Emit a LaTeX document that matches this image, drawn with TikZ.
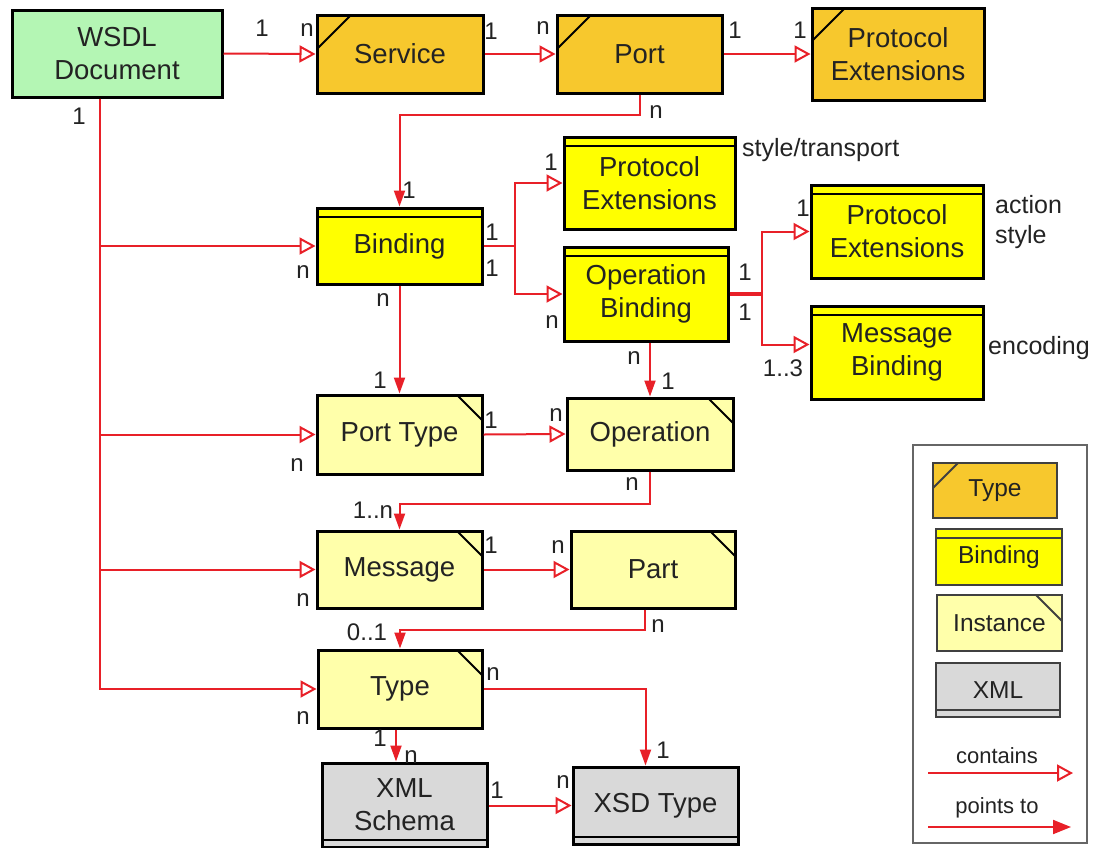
\documentclass[tikz,border=0pt]{standalone}
\usepackage{fontspec}
\setmainfont{Liberation Sans}
\usetikzlibrary{arrows.meta}

\definecolor{wsdlgreen}{RGB}{180,246,180}
\definecolor{typeorange}{RGB}{247,200,45}
\definecolor{bindyellow}{RGB}{255,255,0}
\definecolor{instyellow}{RGB}{255,255,170}
\definecolor{xmlgray}{RGB}{217,217,217}
\definecolor{arrowred}{RGB}{232,32,40}
\definecolor{inktext}{RGB}{35,35,35}

\begin{document}
\begin{tikzpicture}[x=1pt,y=-1pt,
  box/.style={draw=black, line width=3pt, inner sep=0pt, align=center,
    text=inktext, font=\fontsize{27.5}{33}\selectfont},
  smallbox/.style={box, line width=1.5pt, draw=black!75, font=\fontsize{24.5}{28}\selectfont},
  docbox/.style={box, fill=wsdlgreen},
  typebox/.style={fill=typeorange, path picture={
    \draw[line width=2pt] ([yshift=-#1pt]path picture bounding box.north west)
      -- ([xshift=#1pt]path picture bounding box.north west);}},
  typebox/.default=34,
  bindbox/.style={fill=bindyellow, path picture={
    \draw[line width=1.8pt] ([yshift=-9pt]path picture bounding box.north west)
      -- ([yshift=-9pt]path picture bounding box.north east);}},
  instbox/.style={fill=instyellow, path picture={
    \draw[line width=1.8pt] ([xshift=-#1pt]path picture bounding box.north east)
      -- ([yshift=-#1pt]path picture bounding box.north east);}},
  instbox/.default=25,
  xmlbox/.style={fill=xmlgray, path picture={
    \draw[line width=1.8pt] ([yshift=7pt]path picture bounding box.south west)
      -- ([yshift=7pt]path picture bounding box.south east);}},
  con/.style={draw=arrowred, line width=2pt,
    -{Triangle[open, length=16pt, width=17pt, line width=2pt]}},
  ptr/.style={draw=arrowred, line width=2pt, -{Triangle[length=16pt, width=11pt]}},
  lab/.style={inner sep=0pt, text=inktext, font=\fontsize{24}{28}\selectfont},
  note/.style={inner sep=0pt, anchor=west, text=inktext, align=left,
    font=\fontsize{25}{30}\selectfont},
]
\useasboundingbox[fill=white] (0,0) rectangle (1100,847);

% ---- main entities ----
\node[docbox, minimum width=210pt, minimum height=87pt] (wsdl) at (117,53.5) {WSDL\\Document};
\node[box, typebox, minimum width=166pt, minimum height=78pt] (service) at (400,54) {Service};
\node[box, typebox, minimum width=165pt, minimum height=78pt] (port) at (639.5,54) {Port};
\node[box, typebox=33, minimum width=172pt, minimum height=92pt] (pe1) at (898,54) {Protocol\\Extensions};

\node[box, bindbox, minimum width=165pt, minimum height=76pt] (binding) at (399.5,246) {Binding};
\node[box, bindbox, minimum width=171pt, minimum height=92pt] (pe2) at (649.5,183) {Protocol\\Extensions};
\node[box, bindbox, minimum width=164pt, minimum height=94pt] (opb) at (646,294) {Operation\\Binding};
\node[box, bindbox, minimum width=172pt, minimum height=93pt] (pe3) at (897,231.5) {Protocol\\Extensions};
\node[box, bindbox, minimum width=172pt, minimum height=93pt] (msgb) at (897,352.5) {Message\\Binding};

\node[box, instbox, minimum width=165pt, minimum height=79pt] (porttype) at (399.5,434.5) {Port Type};
\node[box, instbox, minimum width=166pt, minimum height=72pt] (operation) at (650,434) {Operation};
\node[box, instbox, minimum width=165pt, minimum height=77pt] (message) at (399.5,569.5) {Message};
\node[box, instbox, minimum width=164pt, minimum height=77pt] (part) at (653,569.5) {Part};
\node[box, instbox, minimum width=164pt, minimum height=78pt] (type) at (400,689) {Type};

\node[box, xmlbox, minimum width=165pt, minimum height=84pt] (xmls) at (404.5,805) {XML\\Schema};
\node[box, xmlbox, minimum width=165pt, minimum height=77pt] (xsd) at (655.5,805.5) {XSD Type};

% ---- connectors ----
\draw[con] (wsdl.east) -- (service.west);
\draw[con] (service.east) -- (port.west);
\draw[con] (port.east) -- (pe1.west);
\draw[ptr] (port.south) -- ++(0,20) -| (binding.north);

\coordinate (t0) at ([xshift=-17pt]wsdl.south);
\draw[con] (t0) |- (binding.west);
\draw[con] (t0) |- (porttype.west);
\draw[con] (t0) |- (message.west);
\draw[con] (t0) |- (type.west);

\draw[arrowred, line width=2pt] (binding.east) -- ++(31,0) coordinate (j1);
\draw[con] (j1) |- (pe2.west);
\draw[con] (j1) |- (opb.west);

\draw[arrowred, line width=4pt] (opb.east) -- ++(32,0) coordinate (j2);
\draw[con] (j2) |- (pe3.west);
\draw[con] (j2) |- ([yshift=8pt]msgb.west);

\draw[ptr] (binding.south) -- (porttype.north);
\draw[ptr] (operation.north |- opb.south) -- (operation.north);
\draw[con] (porttype.east) -- (operation.west);
\draw[ptr] (operation.south) -- ++(0,32) -| (message.north);
\draw[con] (message.east) -- (part.west);
\draw[ptr] ([xshift=-8pt]part.south) -- ++(0,20) -| (type.north);
\draw[ptr] (type.east) -| ([xshift=-10pt]xsd.north);
\draw[ptr] ([xshift=-4pt]type.south) -- ([xshift=-4pt]type.south |- xmls.north);
\draw[con] (xmls.east |- xsd.west) -- (xsd.west);

% ---- multiplicities ----
\node[lab] (m1) at (262,28) {1};
\node[lab] (m2) at (307,30) {n};
\node[lab] (m3) at (491,31) {1};
\node[lab] (m4) at (543,28) {n};
\node[lab] (m5) at (735,30) {1};
\node[lab] (m6) at (800,30) {1};
\node[lab] (m7) at (656,112) {n};
\node[lab] (m8) at (409,190) {1};
\node[lab] (m9) at (79,116) {1};
\node[lab] (m10) at (303,272) {n};
\node[lab] (m11) at (297,465) {n};
\node[lab] (m12) at (303,600) {n};
\node[lab] (m13) at (303,718) {n};
\node[lab] (m14) at (492,232) {1};
\node[lab] (m15) at (492,268) {1};
\node[lab] (m16) at (551,162) {1};
\node[lab] (m17) at (552,322) {n};
\node[lab] (m18) at (745,272) {1};
\node[lab] (m19) at (745,312) {1};
\node[lab] (m20) at (803,208) {1};
\node[lab] (m21) at (783,368) {1..3};
\node[lab] (m22) at (383,300) {n};
\node[lab] (m23) at (380,380) {1};
\node[lab] (m24) at (634,358) {n};
\node[lab] (m25) at (668,381) {1};
\node[lab] (m26) at (491,420) {1};
\node[lab] (m27) at (556,415) {n};
\node[lab] (m28) at (632,484) {n};
\node[lab] (m29) at (373,510) {1..n};
\node[lab] (m30) at (491,545) {1};
\node[lab] (m31) at (558,547) {n};
\node[lab] (m32) at (658,626) {n};
\node[lab] (m33) at (367,632) {0..1};
\node[lab] (m34) at (493,674) {n};
\node[lab] (m35) at (663,750) {1};
\node[lab] (m36) at (380,738) {1};
\node[lab] (m37) at (411,757) {n};
\node[lab] (m38) at (497,790) {1};
\node[lab] (m39) at (563,782) {n};

% ---- side notes ----
\node[note] (n1) at (742,150) {style/transport};
\node[note] (n2) at (995,222) {action\\style};
\node[note] (n3) at (988,348) {encoding};

% ---- legend ----
\node[draw=black!60, line width=1.5pt, minimum width=174pt, minimum height=398pt, inner sep=0pt] (legend) at (1000,644) {};
\node[smallbox, typebox=25, minimum width=124pt, minimum height=55pt] (lt) at (995,490.5) {Type};
\node[smallbox, bindbox, minimum width=126pt, minimum height=56pt] (lb) at (999,557) {Binding};
\node[smallbox, instbox=26, minimum width=125pt, minimum height=56pt] (li) at (999.5,623) {Instance};
\node[smallbox, xmlbox, minimum width=124pt, minimum height=54pt] (lx) at (998,690) {XML};

\node[lab, font=\fontsize{22}{25}\selectfont] (lc) at (997,756) {contains};
\coordinate (ca) at (928,773);
\coordinate (cb) at (1073,773);
\draw[con] (ca) -- (cb);
\node[lab, font=\fontsize{22}{25}\selectfont] (lp) at (997,808) {points to};
\coordinate (pa) at (928,827);
\coordinate (pb) at (1071,827);
\draw[arrowred, line width=2pt, -{Triangle[length=18pt, width=14pt]}] (pa) -- (pb);
\end{tikzpicture}
\end{document}
